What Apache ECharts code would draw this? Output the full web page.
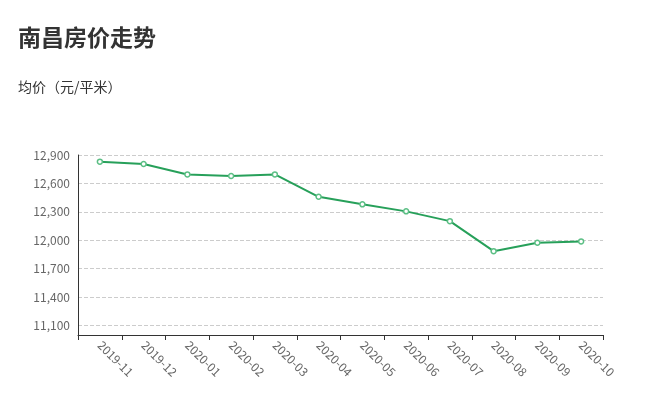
<!DOCTYPE html>
<html>
<head>
<meta charset="utf-8">
<script src="https://cdn.jsdelivr.net/npm/echarts@6/dist/echarts.min.js"></script>
<style>html,body{margin:0;padding:0;background:#fff}#c{width:671px;height:409px}</style>
</head>
<body>
<div id="c"></div>
<script>
var categories = ['2019-11','2019-12','2020-01','2020-02','2020-03','2020-04','2020-05','2020-06','2020-07','2020-08','2020-09','2020-10'];
var prices = [12830, 12805, 12695, 12678, 12695, 12459, 12379, 12305, 12202, 11885, 11973, 11988];
var yMin = 11000;
var yMax = 12900;

var chart = echarts.init(document.getElementById('c'));
chart.setOption({
  animation: false,
  textStyle: { fontFamily: '"Noto Sans CJK SC", "Noto Sans", sans-serif' },
  title: {
    text: '南昌房价走势',
    subtext: '均价（元/平米）',
    left: 18,
    top: 26,
    padding: 0,
    itemGap: 31,
    textStyle: { fontSize: 23, fontWeight: 'bold', color: '#333' },
    subtextStyle: { fontSize: 14, color: '#333' }
  },
  grid: { left: 78, right: 68, top: 155, bottom: 74, containLabel: false },
  xAxis: {
    type: 'category',
    data: categories,
    boundaryGap: true,
    axisLine: { lineStyle: { color: '#333' } },
    axisTick: { show: true, length: 5, lineStyle: { color: '#333' } },
    axisLabel: { rotate: -45, color: '#666', fontSize: 12, margin: 8, interval: 0 }
  },
  yAxis: {
    type: 'value',
    min: yMin,
    max: yMax,
    axisLine: { show: true, lineStyle: { color: '#333' } },
    axisTick: { show: false },
    axisLabel: { color: '#666', fontSize: 12, showMinLabel: false },
    splitLine: { show: true, lineStyle: { type: 'dashed', color: '#ccc' } }
  },
  series: [{
    type: 'line',
    data: prices,
    symbol: 'circle',
    symbolSize: 5,
    itemStyle: { color: '#fff', borderColor: '#5cbf85', borderWidth: 1.5 },
    lineStyle: { color: '#27a05a', width: 2 }
  }]
});
</script>
</body>
</html>
